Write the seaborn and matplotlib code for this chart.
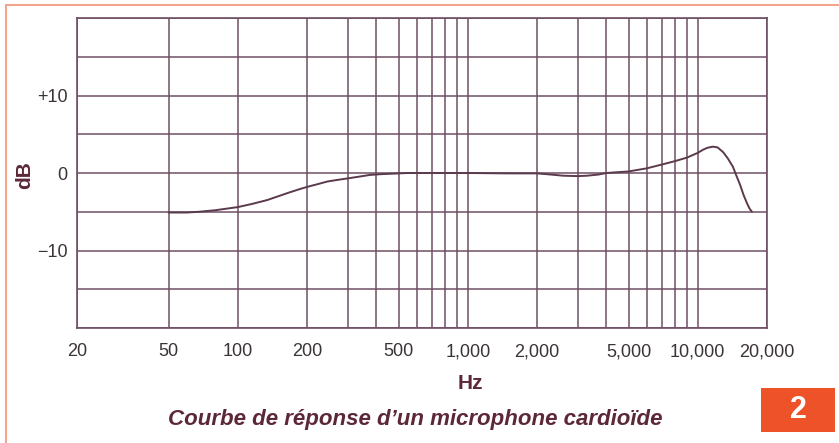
import matplotlib
matplotlib.use("Agg")
import matplotlib.pyplot as plt
import matplotlib.patches as mpatches
import seaborn as sns
import pandas as pd

# ---- data ----
freq_hz = [50, 60, 68, 80, 100, 115, 134, 150, 168, 185, 200, 225, 245, 270, 300,
           340, 375, 420, 460, 550, 700, 1000, 1500, 2000, 2300, 2600, 3000, 3300,
           3700, 4000, 5000, 6000, 7000, 8000, 9000, 10000, 10540, 11000, 11640,
           12200, 12880, 13500, 14220, 14700, 15270, 15800, 16370, 16800, 17200]
level_db = [-5.1, -5.1, -5.0, -4.8, -4.4, -4.0, -3.5, -3.0, -2.5, -2.1, -1.8, -1.4,
            -1.1, -0.9, -0.7, -0.45, -0.25, -0.15, -0.1, 0.0, 0.0, 0.0, -0.05, -0.05,
            -0.2, -0.35, -0.4, -0.35, -0.2, 0.0, 0.2, 0.6, 1.1, 1.55, 2.0, 2.6, 3.0,
            3.25, 3.4, 3.3, 2.7, 1.9, 0.8, -0.3, -1.5, -2.8, -3.9, -4.6, -5.0]

major_ticks = [20, 50, 100, 200, 500, 1000, 2000, 5000, 10000, 20000]
major_labels = ["20", "50", "100", "200", "500", "1,000", "2,000", "5,000",
                "10,000", "20,000"]
minor_ticks = [300, 400, 600, 700, 800, 900, 3000, 4000, 6000, 7000, 8000, 9000]
ygrid = [-20, -15, -10, -5, 0, 5, 10, 15, 20]
ytick_vals = [10, 0, -10]
ytick_labels = ["+10", "0", "\u221210"]

title_text = "Courbe de réponse d\u2019un microphone cardioïde"
fig_number = "2"

# ---- styling ----
sns.set_theme(style="white")
plt.rcParams["font.family"] = ["Liberation Sans", "DejaVu Sans"]

grid_col = "#6e4f63"
curve_col = "#5a3a4c"
text_col = "#3a3438"
title_col = "#5c2838"

fig = plt.figure(figsize=(8.39, 4.43), dpi=100)
fig.patch.set_facecolor("white")
ax = fig.add_axes([77 / 839, 1 - 328 / 443, 690 / 839, 310 / 443])

df = pd.DataFrame({"Hz": freq_hz, "dB": level_db})
sns.lineplot(data=df, x="Hz", y="dB", ax=ax, color=curve_col, linewidth=1.4)

ax.set_xscale("log")
ax.set_xlim(20, 20000)
ax.set_ylim(-20, 20)

ax.set_xticks(major_ticks)
ax.set_xticklabels(major_labels)
ax.set_xticks(minor_ticks, minor=True)
ax.set_xticklabels([], minor=True)
ax.set_yticks(ygrid, minor=True)
ax.set_yticks(ytick_vals)
ax.set_yticklabels(ytick_labels)

ax.grid(True, which="both", axis="both", color=grid_col, linewidth=1.1)
ax.tick_params(axis="both", which="both", length=0, labelsize=13,
               labelcolor=text_col)
ax.tick_params(axis="x", pad=11)
ax.tick_params(axis="y", pad=7)
for s in ax.spines.values():
    s.set_color(grid_col)
    s.set_linewidth(1.2)

ax.set_xlabel("Hz", fontsize=15, fontweight="bold", color=title_col)
ax.xaxis.set_label_coords((470 - 77) / 690, -(374 - 328) / 310)
ax.set_ylabel("dB", fontsize=15, fontweight="bold", color=title_col)
ax.yaxis.set_label_coords(-(77 - 34) / 690, (328 - 175) / 310)

fig.text(415 / 839, 1 - 419 / 443, title_text, ha="center", va="center",
         fontsize=16, fontweight="bold", fontstyle="italic", color=title_col,
         family=["Liberation Sans Narrow", "Liberation Sans", "DejaVu Sans"])

# figure number box
fig.patches.append(mpatches.Rectangle((761 / 839, 1 - 432 / 443), 74 / 839, 44 / 443,
                                      transform=fig.transFigure,
                                      facecolor="#ee5228", edgecolor="none"))
fig.text(798 / 839, 1 - 410 / 443, fig_number, ha="center", va="center",
         fontsize=22, fontweight="bold", color="white")

# page frame lines
fig.add_artist(plt.Line2D([6 / 839, 1], [1 - 5 / 443, 1 - 5 / 443],
                          transform=fig.transFigure, color="#f3a58c", linewidth=1.5))
fig.add_artist(plt.Line2D([6 / 839, 6 / 839], [0, 1 - 5 / 443],
                          transform=fig.transFigure, color="#f3a58c", linewidth=1.5))

fig.savefig("out.png", dpi=100, facecolor="white")
